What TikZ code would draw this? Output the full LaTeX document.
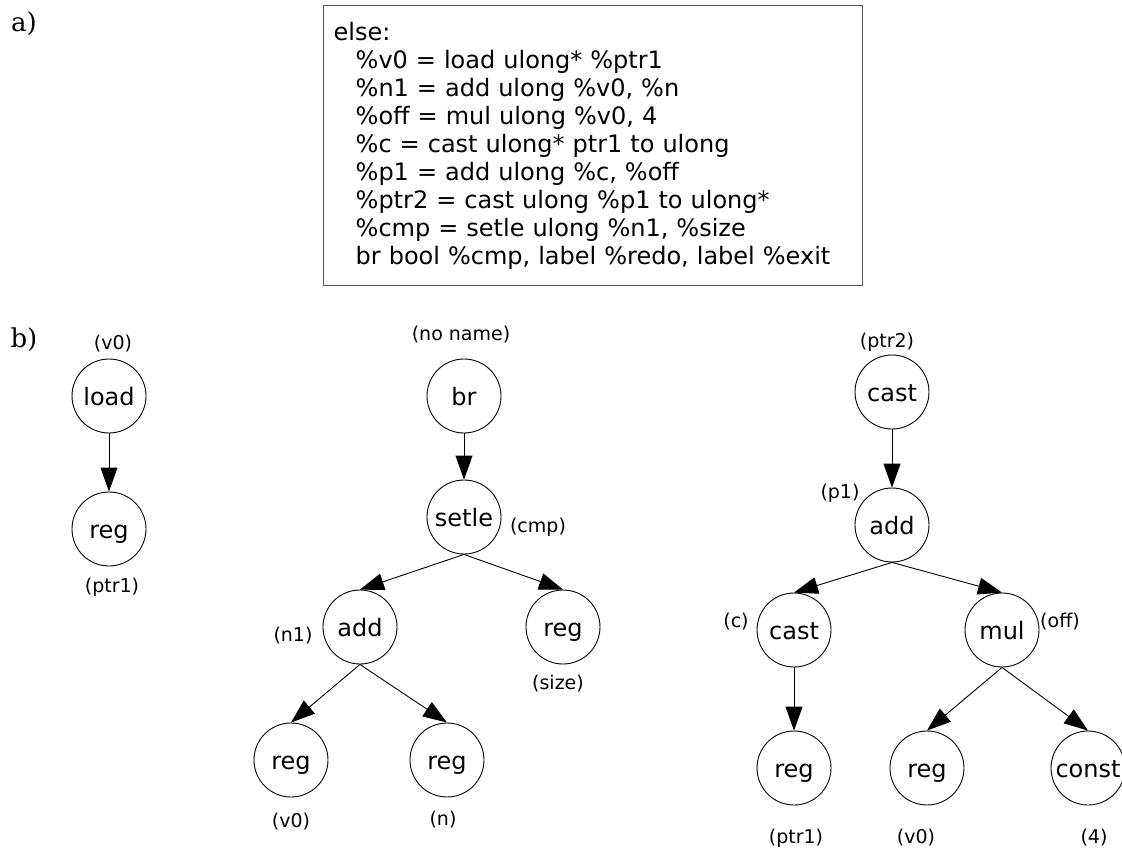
\documentclass[tikz,border=0pt]{standalone}
\usepackage{fontspec}
\setmainfont{DejaVu Sans}
\newfontfamily\partfont{DejaVu Serif}
\usetikzlibrary{arrows.meta}
\begin{document}
\begin{tikzpicture}[x=1pt,y=-1pt,
  op/.style={circle,draw,line width=0.9pt,minimum size=74pt,inner sep=0pt,
    text height=20pt,text depth=2pt,font=\fontsize{24}{28}\selectfont},
  tag/.style={inner sep=0pt,font=\fontsize{19}{22}\selectfont},
  part/.style={inner sep=0pt,font=\partfont\fontsize{26}{30}\selectfont},
  edge/.style={line width=0.9pt,-{Triangle[length=24pt,width=17pt]}},
  codebox/.style={draw=black!65,line width=1.4pt,anchor=north west,
    minimum width=539pt,minimum height=280pt,inner xsep=10pt,inner ysep=0pt,
    text width=519pt,align=left,font=\fontsize{24}{28}\selectfont}]
\useasboundingbox (0,0) rectangle (1122,867);

% part labels
\node[part] (pa) at (24,24) {a)};
\node[part] (pb) at (24,340) {b)};

% source listing
\newcommand{\ind}{\hspace*{22pt}}
\node[codebox] (code) at (323,5) {else:\\
\ind\%v0 = load ulong* \%ptr1\\
\ind\%n1 = add ulong \%v0, \%n\\
\ind\%off = mul ulong \%v0, 4\\
\ind\%c = cast ulong* ptr1 to ulong\\
\ind\%p1 = add ulong \%c, \%off\\
\ind\%ptr2 = cast ulong \%p1 to ulong*\\
\ind\%cmp = setle ulong \%n1, \%size\\
\ind br bool \%cmp, label \%redo, label \%exit};

% tree 1: load
\node[op] (load) at (109,396) {load};
\node[op] (reg1) at (109,529) {reg};
\node[tag] (tload) at (113,344) {(v0)};
\node[tag] (treg1) at (112,587) {(ptr1)};
\draw[edge] (load.south) -- (reg1.north);

% tree 2: br / setle
\node[op] (br) at (464,396) {br};
\node[op] (setle) at (464,517) {setle};
\node[op] (addn) at (360,627) {add};
\node[op] (regsize) at (563,627) {reg};
\node[op] (regva) at (291,760) {reg};
\node[op] (regn) at (447,760) {reg};
\node[tag] (tbr) at (461,335) {(no name)};
\node[tag] (tsetle) at (538,527) {(cmp)};
\node[tag] (taddn) at (293,636) {(n1)};
\node[tag] (tregsize) at (558,684) {(size)};
\node[tag] (tregva) at (291,822) {(v0)};
\node[tag] (tregn) at (443,820) {(n)};
\draw[edge] (br.south) -- (setle.north);
\draw[edge] (setle.south) -- (addn.north);
\draw[edge] (setle.south) -- (regsize.north);
\draw[edge] (addn.south) -- (regva.north);
\draw[edge] (addn.south) -- (regn.north);

% tree 3: cast / add / mul
\node[op] (castp) at (892,392) {cast};
\node[op] (addp) at (892,525) {add};
\node[op] (castc) at (794,630) {cast};
\node[op] (mul) at (1002,630) {mul};
\node[op] (regp) at (794,768) {reg};
\node[op] (regvb) at (927,768) {reg};
\node[op] (const) at (1088,768) {const};
\node[tag] (tcastp) at (887,342) {(ptr2)};
\node[tag] (taddp) at (840,493) {(p1)};
\node[tag] (tcastc) at (736,622) {(c)};
\node[tag] (tmul) at (1060,622) {(off)};
\node[tag] (tregp) at (796,838) {(ptr1)};
\node[tag] (tregvb) at (916,838) {(v0)};
\node[tag] (tconst) at (1094,838) {(4)};
\draw[edge] (castp.south) -- (addp.north);
\draw[edge] (addp.south) -- (castc.north);
\draw[edge] (addp.south) -- (mul.north);
\draw[edge] (castc.south) -- (regp.north);
\draw[edge] (mul.south) -- (regvb.north);
\draw[edge] (mul.south) -- (const.north);
\end{tikzpicture}
\end{document}
